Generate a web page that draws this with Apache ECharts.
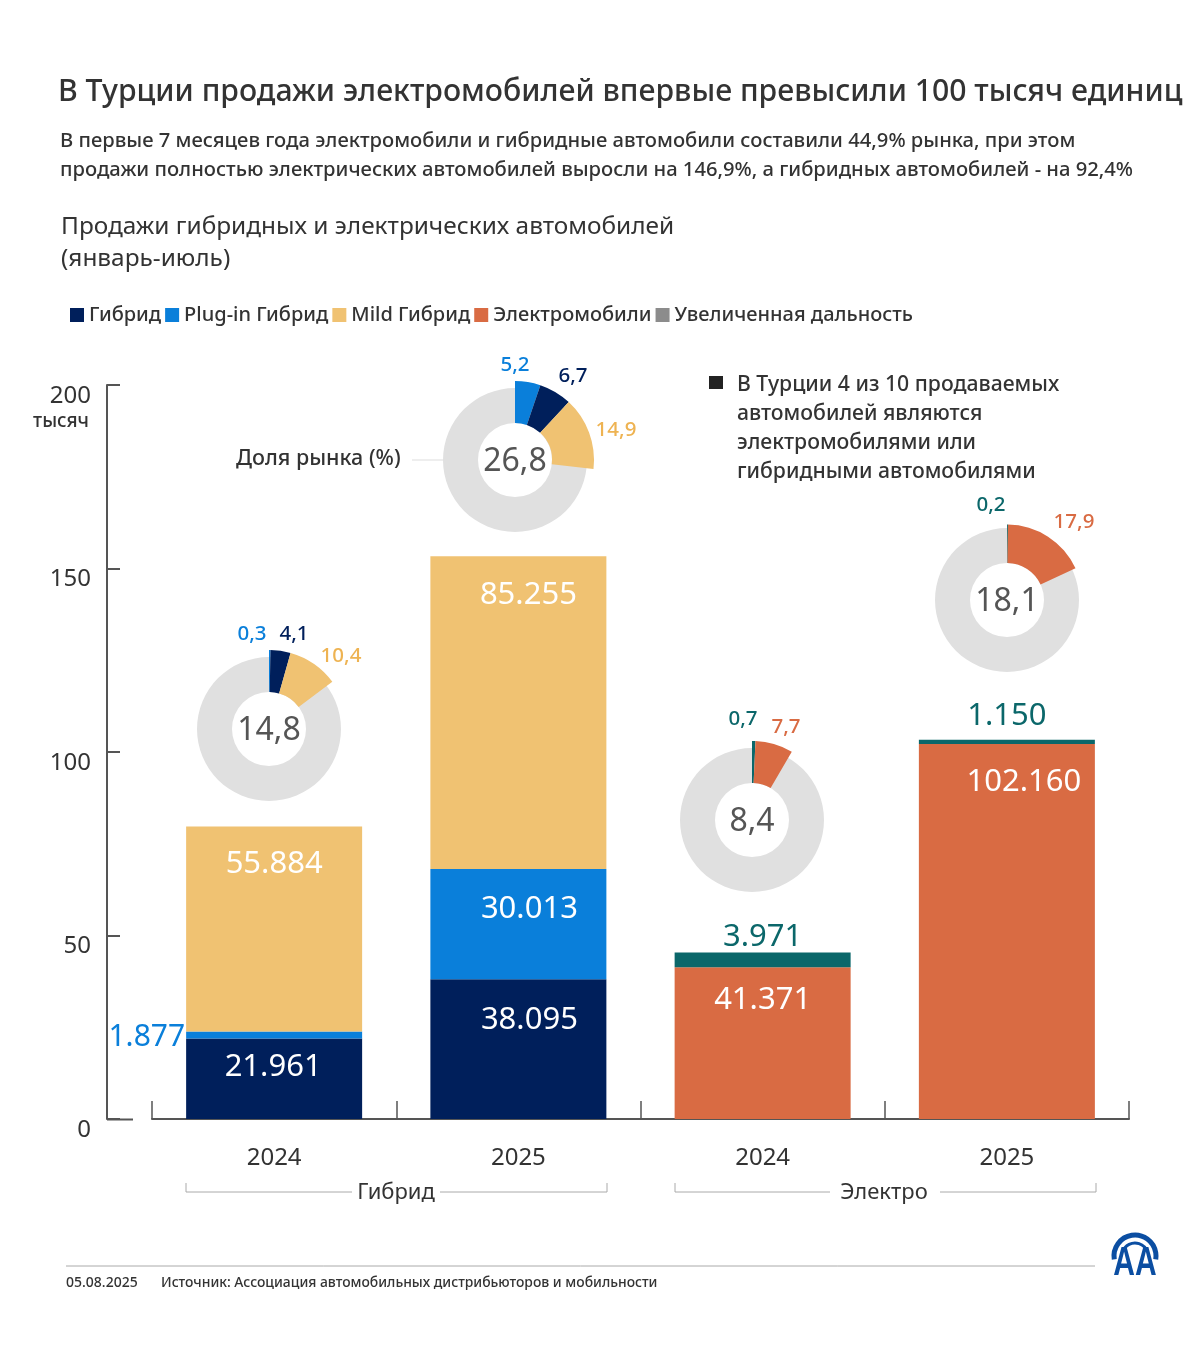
<!DOCTYPE html>
<html>
<head>
<meta charset="utf-8">
<title>Продажи гибридных и электрических автомобилей</title>
<script src="https://cdn.jsdelivr.net/npm/echarts@6/dist/echarts.min.js"></script>
<style>
	html, body { margin: 0; padding: 0; background: #fff; }
	#chart { width: 1200px; height: 1361px; }
</style>
</head>
<body>
<div id="chart"></div>
<script>
// данные
var years = ['2024', '2025', '2024', '2025'];
var hybrid = [21961, 38095, null, null];
var plugin = [1877, 30013, null, null];
var mild = [55884, 85255, null, null];
var electric = [null, null, 41371, 102160];
var extended = [null, null, 3971, 1150];
var yTicks = [0, 50000, 100000, 150000, 200000];

// доля рынка (%)
var share2024Hybrid = [0.3, 4.1, 10.4];
var share2025Hybrid = [5.2, 6.7, 14.9];
var share2024Electric = [0.7, 7.7];
var share2025Electric = [0.2, 17.9];
var shareTotals = [14.8, 26.8, 8.4, 18.1];

var FONT = '"Noto Sans", sans-serif';
var NAVY = '#001f5b', BLUE = '#0a7fda', GOLD = '#f0c272', ORANGE = '#d96b43', TEAL = '#0b676a', GREY = '#8c8c8c';
var GOLD_TEXT = '#eeb352';
var TEXT = '#333333';

function fmtThousands(v) {
	return String(v).replace(/\B(?=(\d{3})+$)/g, '.');
}
function fmtShare(v) {
	return String(v).replace('.', ',');
}

// сдвиги подписей столбцов
var shiftHybrid = [[-1, -4], [11, 8]];
var shiftPlugin = [[0, 0], [11, 8]];
var shiftMild = [[0, 5], [10, 7]];
var shiftElectric = [[0, 0], [0, 0], [0, 1], [17, 6]];
var shiftExtended = [[0, 0], [0, 0], [0, 1], [0, -7]];

function barData(values, shifts, labelBase) {
	return values.map(function(v, i) {
		if(v === null) return null;
		var s = shifts[i] || [0, 0];
		return {
			value: v,
			label: Object.assign({ offset: s }, labelBase)
		};
	});
}

var insideLabel = { show: true, position: 'insideTop', distance: 17, color: '#ffffff', fontSize: 31, fontFamily: FONT };

function barSeries(name, values, color, shifts, labelBase) {
	return {
		name: name,
		type: 'bar',
		stack: 'total',
		barWidth: 176,
		itemStyle: { color: color },
		label: { show: true, fontFamily: FONT, formatter: function(p) { return fmtThousands(p.value); } },
		data: barData(values, shifts, labelBase),
		z: 3
	};
}

function donutSeries(center, shares, colors, total, outer) {
	var sum = shares.reduce(function(a, b) { return a + b; }, 0);
	var items = shares.map(function(v, i) {
		return { value: v, itemStyle: { color: colors[i] } };
	});
	items.push({ value: 100 - sum, itemStyle: { color: 'transparent' } });
	return [{
		type: 'pie',
		center: center,
		radius: [37, 72],
		silent: true,
		label: {
			show: true,
			position: 'center',
			formatter: fmtShare(total),
			fontSize: 32,
			color: '#555555',
			fontFamily: FONT,
			offset: [0, 2]
		},
		labelLine: { show: false },
		data: [{ value: 100, itemStyle: { color: '#e0e0e0' } }],
		z: 4
	}, {
		type: 'pie',
		center: center,
		radius: [37, outer],
		startAngle: 90,
		silent: true,
		label: { show: false },
		labelLine: { show: false },
		data: items,
		z: 5
	}];
}

function txt(x, y, s, size, color, align, weight) {
	return {
		type: 'text',
		silent: true,
		z: 10,
		style: {
			x: x,
			y: y,
			text: s,
			fill: color || TEXT,
			font: (weight || 'normal') + ' ' + size + 'px ' + FONT,
			textAlign: align || 'left',
			textVerticalAlign: 'middle',
			verticalAlign: 'middle'
		}
	};
}

function seg(points, color, width) {
	return {
		type: 'polyline',
		silent: true,
		z: 2,
		shape: { points: points },
		style: { stroke: color, lineWidth: width || 1, fill: null }
	};
}

function shareLabels(values, positions, colors) {
	return values.map(function(v, i) {
		return txt(positions[i][0], positions[i][1], fmtShare(v), 20.5, colors[i], 'center', 500);
	});
}

var graphics = [
	// длинная черта нуля и "тысяч"
	seg([[107, 1119.5], [133, 1119.5]], '#555555', 2),
	txt(89, 422, 'тысяч', 19, TEXT, 'right', 500),
	// доля рынка
	txt(236, 459, 'Доля рынка (%)', 21.5, TEXT, 'left', 500),
	seg([[412, 460], [443, 460]], '#dddddd', 1),
	// примечание
	{ type: 'rect', silent: true, shape: { x: 709, y: 376, width: 14, height: 13 }, style: { fill: '#222222' } },
	txt(737, 385, 'В Турции 4 из 10 продаваемых', 21.2, TEXT, 'left', 500),
	txt(737, 414, 'автомобилей являются', 21.2, TEXT, 'left', 500),
	txt(737, 443, 'электромобилями или', 21.2, TEXT, 'left', 500),
	txt(737, 472, 'гибридными автомобилями', 21.2, TEXT, 'left', 500),
	// скобки групп
	seg([[186, 1183], [186, 1192], [352, 1192]], '#aaaaaa', 1),
	seg([[440, 1192], [607, 1192], [607, 1183]], '#aaaaaa', 1),
	txt(396, 1193, 'Гибрид', 22, TEXT, 'center'),
	seg([[675, 1183], [675, 1192], [830, 1192]], '#aaaaaa', 1),
	seg([[940, 1192], [1096, 1192], [1096, 1183]], '#aaaaaa', 1),
	txt(884, 1193, 'Электро', 22, TEXT, 'center'),
	// подвал
	seg([[66, 1266], [1095, 1266]], '#aaaaaa', 1),
	txt(66, 1283, '05.08.2025', 14, TEXT, 'left', 500),
	txt(161, 1283, 'Источник: Ассоциация автомобильных дистрибьюторов и мобильности', 13.9, TEXT, 'left', 500),
	// логотип
	{ type: 'arc', silent: true, shape: { cx: 1135, cy: 1256, r: 21, startAngle: Math.PI * 0.95, endAngle: Math.PI * 2.05 }, style: { stroke: '#0b4ea2', lineWidth: 5, fill: null } },
	{ type: 'arc', silent: true, shape: { cx: 1135, cy: 1256, r: 13, startAngle: Math.PI * 1.1, endAngle: Math.PI * 1.9 }, style: { stroke: '#0b4ea2', lineWidth: 3, fill: null } },
	{ type: 'text', silent: true, x: 1135, y: 1264, scaleY: 1.35, style: { x: 0, y: 0, text: 'AA', fill: '#0b4ea2', font: 'bold 30px "Liberation Sans"', textAlign: 'center', textVerticalAlign: 'middle', verticalAlign: 'middle' } }
];

graphics = graphics
	.concat(shareLabels(share2024Hybrid, [[252, 634], [294, 634], [341, 656]], [BLUE, NAVY, GOLD_TEXT]))
	.concat(shareLabels(share2025Hybrid, [[515, 365], [573, 376], [616, 430]], [BLUE, NAVY, GOLD_TEXT]))
	.concat(shareLabels(share2024Electric, [[743, 719], [786, 727]], [TEAL, ORANGE]))
	.concat(shareLabels(share2025Electric, [[991, 505], [1074, 522]], [TEAL, ORANGE]));

var option = {
	backgroundColor: '#ffffff',
	animation: false,
	textStyle: { fontFamily: FONT },
	title: [{
		text: 'В Турции продажи электромобилей впервые превысили 100 тысяч единиц',
		left: 53,
		top: 72,
		textStyle: { fontFamily: FONT, fontSize: 30.2, fontWeight: 500, color: TEXT }
	}, {
		text: 'В первые 7 месяцев года электромобили и гибридные автомобили составили 44,9% рынка, при этом\nпродажи полностью электрических автомобилей выросли на 146,9%, а гибридных автомобилей - на 92,4%',
		left: 55,
		top: 122,
		textStyle: { fontFamily: FONT, fontSize: 20.2, fontWeight: 500, color: TEXT, lineHeight: 29 }
	}, {
		text: 'Продажи гибридных и электрических автомобилей\n(январь-июль)',
		left: 56,
		top: 206,
		textStyle: { fontFamily: FONT, fontSize: 24.4, fontWeight: 400, color: TEXT, lineHeight: 32 }
	}],
	legend: {
		left: 65,
		top: 300,
		itemWidth: 14,
		itemHeight: 14,
		itemGap: 4,
		icon: 'rect',
		selectedMode: false,
		textStyle: { fontFamily: FONT, fontSize: 20, fontWeight: 500, color: TEXT },
		data: [
			{ name: 'Гибрид' },
			{ name: 'Plug-in Гибрид' },
			{ name: 'Mild Гибрид' },
			{ name: 'Электромобили' },
			{ name: 'Увеличенная дальность', itemStyle: { color: GREY } }
		]
	},
	grid: { left: 152, right: 71, top: 385, bottom: 242, containLabel: false },
	xAxis: {
		type: 'category',
		data: years,
		axisLine: { lineStyle: { color: '#555555', width: 2 } },
		axisTick: { show: true, inside: true, length: 18, lineStyle: { color: '#555555', width: 1.5 } },
		axisLabel: { margin: 27, fontSize: 24, color: TEXT, fontFamily: FONT, interval: 0 }
	},
	yAxis: {
		type: 'value',
		min: yTicks[0],
		max: yTicks[yTicks.length - 1],
		interval: yTicks[1] - yTicks[0],
		offset: 45,
		splitLine: { show: false },
		axisLine: { show: true, lineStyle: { color: '#555555', width: 2 } },
		axisTick: { show: true, inside: true, length: 13, lineStyle: { color: '#555555', width: 2 } },
		axisLabel: {
			margin: 16,
			fontSize: 24,
			color: TEXT,
			fontFamily: FONT,
			verticalAlign: 'top',
			lineHeight: 22,
			formatter: function(v) { return v / 1000; }
		}
	},
	series: [
		barSeries('Гибрид', hybrid, NAVY, shiftHybrid, insideLabel),
		barSeries('Plug-in Гибрид', plugin, BLUE, shiftPlugin, insideLabel),
		barSeries('Mild Гибрид', mild, GOLD, shiftMild, insideLabel),
		barSeries('Электромобили', electric, ORANGE, shiftElectric, insideLabel),
		barSeries('Увеличенная дальность', extended, TEAL, shiftExtended, { show: true, position: 'top', distance: 1, color: TEAL, fontSize: 31, fontFamily: FONT })
	].concat(
		donutSeries([269, 729], share2024Hybrid, [BLUE, NAVY, GOLD], shareTotals[0], 79),
		donutSeries([515, 460], share2025Hybrid, [BLUE, NAVY, GOLD], shareTotals[1], 79),
		donutSeries([752, 820], share2024Electric, [TEAL, ORANGE], shareTotals[2], 79),
		donutSeries([1007, 600], share2025Electric, [TEAL, ORANGE], shareTotals[3], 75.5)
	),
	graphic: graphics
};

// подпись 1.877 стоит слева от столбца
option.series[1].data[0].label = { show: true, position: 'left', distance: 1, color: BLUE, fontSize: 30, fontFamily: FONT, offset: [0, 2] };

var myChart = echarts.init(document.getElementById('chart'));
myChart.setOption(option);
</script>
</body>
</html>
